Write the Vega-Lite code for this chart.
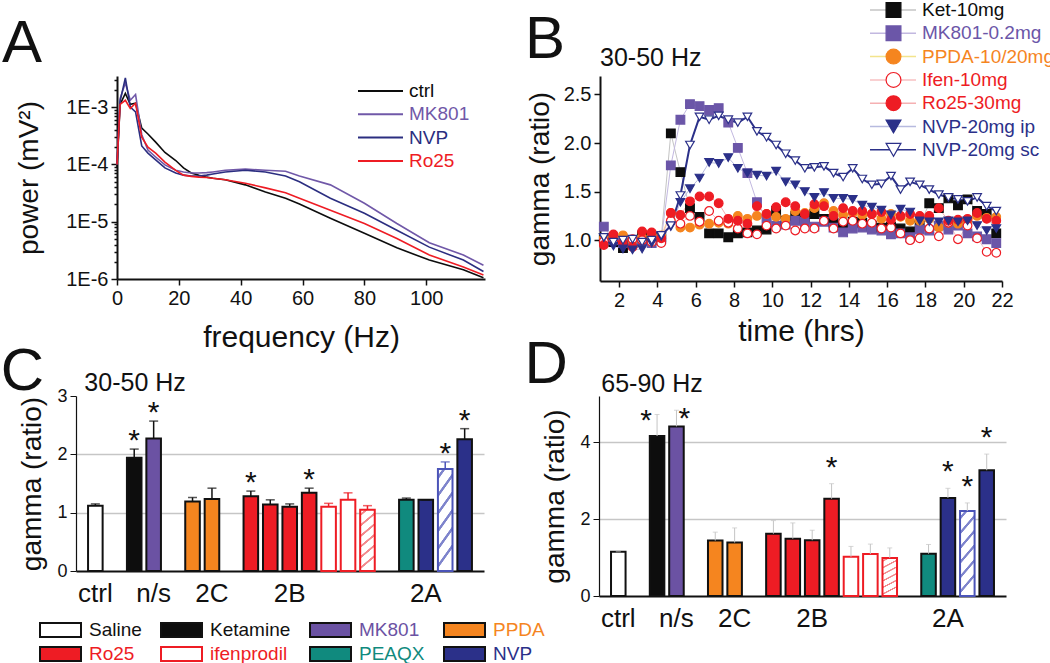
{
  "$schema": "https://vega.github.io/schema/vega-lite/v6.json",
  "background": "white",
  "padding": 0,
  "datasets": {
    "A": [
      {"f": 0, "ctrl": 8.9e-5, "MK801": 1.0e-4, "NVP": 1.0e-4, "Ro25": 1.0e-4},
      {"f": 1, "ctrl": 1.12e-3, "MK801": 1.41e-3, "NVP": 1.26e-3, "Ro25": 1.12e-3},
      {"f": 2.7, "ctrl": 1.74e-3, "MK801": 2.63e-3, "NVP": 3.24e-3, "Ro25": 1.32e-3},
      {"f": 4.3, "ctrl": 1.12e-3, "MK801": 1.32e-3, "NVP": 1.0e-3, "Ro25": 9.5e-4},
      {"f": 6, "ctrl": 1.17e-3, "MK801": 1.66e-3, "NVP": 8.3e-4, "Ro25": 1.17e-3},
      {"f": 8, "ctrl": 4.3e-4, "MK801": 3.3e-4, "NVP": 2.1e-4, "Ro25": 3.0e-4},
      {"f": 10, "ctrl": 3.4e-4, "MK801": 1.78e-4, "NVP": 1.58e-4, "Ro25": 2.0e-4},
      {"f": 12.5, "ctrl": 2.45e-4, "MK801": 1.35e-4, "NVP": 1.2e-4, "Ro25": 1.58e-4},
      {"f": 15.5, "ctrl": 1.62e-4, "MK801": 9.8e-5, "NVP": 8.7e-5, "Ro25": 1.1e-4},
      {"f": 19, "ctrl": 1.17e-4, "MK801": 7.9e-5, "NVP": 7.1e-5, "Ro25": 7.9e-5},
      {"f": 21.5, "ctrl": 8.7e-5, "MK801": 7.4e-5, "NVP": 6.5e-5, "Ro25": 6.5e-5},
      {"f": 24, "ctrl": 7.1e-5, "MK801": 7.1e-5, "NVP": 6.3e-5, "Ro25": 6.2e-5},
      {"f": 26.5, "ctrl": 6.5e-5, "MK801": 7.1e-5, "NVP": 6.3e-5, "Ro25": 6.0e-5},
      {"f": 29, "ctrl": 6.0e-5, "MK801": 7.2e-5, "NVP": 6.5e-5, "Ro25": 5.9e-5},
      {"f": 31, "ctrl": 5.75e-5, "MK801": 7.4e-5, "NVP": 6.8e-5, "Ro25": 5.75e-5},
      {"f": 35, "ctrl": 5.4e-5, "MK801": 7.9e-5, "NVP": 7.4e-5, "Ro25": 5.4e-5},
      {"f": 41.5, "ctrl": 4.4e-5, "MK801": 8.3e-5, "NVP": 7.9e-5, "Ro25": 4.7e-5},
      {"f": 48, "ctrl": 3.3e-5, "MK801": 7.9e-5, "NVP": 7.4e-5, "Ro25": 3.9e-5},
      {"f": 54.5, "ctrl": 2.57e-5, "MK801": 7.6e-5, "NVP": 6.3e-5, "Ro25": 3.2e-5},
      {"f": 59, "ctrl": 2.04e-5, "MK801": 6.3e-5, "NVP": 5.0e-5, "Ro25": 2.57e-5},
      {"f": 69, "ctrl": 1.15e-5, "MK801": 4.4e-5, "NVP": 2.57e-5, "Ro25": 1.58e-5},
      {"f": 80, "ctrl": 6.3e-6, "MK801": 2.1e-5, "NVP": 1.41e-5, "Ro25": 9.3e-6},
      {"f": 90.5, "ctrl": 3.5e-6, "MK801": 9.3e-6, "NVP": 7.1e-6, "Ro25": 5.1e-6},
      {"f": 101, "ctrl": 2.14e-6, "MK801": 4.3e-6, "NVP": 3.6e-6, "Ro25": 2.63e-6},
      {"f": 112, "ctrl": 1.45e-6, "MK801": 2.63e-6, "NVP": 2.14e-6, "Ro25": 1.62e-6},
      {"f": 118.5, "ctrl": 1.05e-6, "MK801": 1.74e-6, "NVP": 1.35e-6, "Ro25": 1.17e-6}
    ],
    "B": [
      {"t": 1.2, "ket": 1.02, "mk": 1.14, "ppda": 1.02, "ifen": 0.99, "ro": 0.95, "ip": 1.03, "sc": 1.03},
      {"t": 1.7, "ket": 0.98, "mk": 1.0, "ppda": 1.03, "ifen": 1.0, "ro": 1.06, "ip": 0.94, "sc": 0.98},
      {"t": 2.2, "ket": 0.92, "mk": 0.97, "ppda": 1.05, "ifen": 0.97, "ro": 0.97, "ip": 0.91, "sc": 1.0},
      {"t": 2.7, "ket": 0.97, "mk": 0.98, "ppda": 1.0, "ifen": 1.01, "ro": 0.93, "ip": 0.9, "sc": 1.01},
      {"t": 3.2, "ket": 1.05, "mk": 1.0, "ppda": 1.03, "ifen": 1.0, "ro": 1.09, "ip": 0.91, "sc": 0.98},
      {"t": 3.7, "ket": 1.0, "mk": 0.97, "ppda": 1.05, "ifen": 0.98, "ro": 1.08, "ip": 0.97, "sc": 1.0},
      {"t": 4.2, "ket": 1.03, "mk": 1.01, "ppda": 1.05, "ifen": 0.97, "ro": 1.02, "ip": 1.04, "sc": 1.05},
      {"t": 4.7, "ket": 2.1, "mk": 1.77, "ppda": 1.28, "ifen": 1.2, "ro": 1.28, "ip": 1.14, "sc": 1.15},
      {"t": 5.2, "ket": 1.7, "mk": 2.24, "ppda": 1.13, "ifen": 1.17, "ro": 1.26, "ip": 1.39, "sc": 1.46},
      {"t": 5.7, "ket": 1.33, "mk": 2.4, "ppda": 1.13, "ifen": 1.25, "ro": 1.4, "ip": 1.53, "sc": 1.98},
      {"t": 6.2, "ket": 1.24, "mk": 2.38, "ppda": 1.16, "ifen": 1.19, "ro": 1.45, "ip": 1.64, "sc": 2.27},
      {"t": 6.7, "ket": 1.07, "mk": 2.34, "ppda": 1.17, "ifen": 1.3, "ro": 1.45, "ip": 1.8, "sc": 2.24},
      {"t": 7.2, "ket": 1.07, "mk": 2.36, "ppda": 1.18, "ifen": 1.2, "ro": 1.38, "ip": 1.79, "sc": 2.28},
      {"t": 7.7, "ket": 1.03, "mk": 2.21, "ppda": 1.17, "ifen": 1.18, "ro": 1.22, "ip": 1.85, "sc": 2.24},
      {"t": 8.2, "ket": 1.07, "mk": 1.95, "ppda": 1.25, "ifen": 1.12, "ro": 1.2, "ip": 1.74, "sc": 2.21},
      {"t": 8.7, "ket": 1.08, "mk": 1.69, "ppda": 1.22, "ifen": 1.07, "ro": 1.17, "ip": 1.69, "sc": 2.27},
      {"t": 9.2, "ket": 1.1, "mk": 1.39, "ppda": 1.25, "ifen": 1.06, "ro": 1.35, "ip": 1.67, "sc": 2.12},
      {"t": 9.7, "ket": 1.11, "mk": 1.22, "ppda": 1.27, "ifen": 1.15, "ro": 1.27, "ip": 1.66, "sc": 2.06},
      {"t": 10.2, "ket": 1.3, "mk": 1.15, "ppda": 1.24, "ifen": 1.12, "ro": 1.34, "ip": 1.71, "sc": 1.98},
      {"t": 10.7, "ket": 1.2, "mk": 1.16, "ppda": 1.22, "ifen": 1.15, "ro": 1.39, "ip": 1.6, "sc": 1.89},
      {"t": 11.2, "ket": 1.25, "mk": 1.2, "ppda": 1.3, "ifen": 1.1, "ro": 1.35, "ip": 1.57, "sc": 1.82},
      {"t": 11.7, "ket": 1.22, "mk": 1.19, "ppda": 1.28, "ifen": 1.12, "ro": 1.27, "ip": 1.5, "sc": 1.74},
      {"t": 12.2, "ket": 1.27, "mk": 1.14, "ppda": 1.33, "ifen": 1.12, "ro": 1.37, "ip": 1.44, "sc": 1.75},
      {"t": 12.7, "ket": 1.22, "mk": 1.19, "ppda": 1.38, "ifen": 1.2, "ro": 1.35, "ip": 1.49, "sc": 1.76},
      {"t": 13.2, "ket": 1.18, "mk": 1.13, "ppda": 1.3, "ifen": 1.12, "ro": 1.25, "ip": 1.43, "sc": 1.69},
      {"t": 13.7, "ket": 1.15, "mk": 1.08, "ppda": 1.26, "ifen": 1.19, "ro": 1.33, "ip": 1.43, "sc": 1.65},
      {"t": 14.2, "ket": 1.19, "mk": 1.12, "ppda": 1.28, "ifen": 1.2, "ro": 1.3, "ip": 1.42, "sc": 1.74},
      {"t": 14.7, "ket": 1.18, "mk": 1.13, "ppda": 1.26, "ifen": 1.17, "ro": 1.3, "ip": 1.36, "sc": 1.63},
      {"t": 15.2, "ket": 1.15, "mk": 1.11, "ppda": 1.27, "ifen": 1.18, "ro": 1.27, "ip": 1.34, "sc": 1.57},
      {"t": 15.7, "ket": 1.13, "mk": 1.1, "ppda": 1.22, "ifen": 1.12, "ro": 1.29, "ip": 1.31, "sc": 1.58},
      {"t": 16.2, "ket": 1.14, "mk": 1.06, "ppda": 1.27, "ifen": 1.13, "ro": 1.21, "ip": 1.26, "sc": 1.66},
      {"t": 16.7, "ket": 1.12, "mk": 1.07, "ppda": 1.24, "ifen": 1.07, "ro": 1.25, "ip": 1.32, "sc": 1.52},
      {"t": 17.2, "ket": 1.09, "mk": 1.03, "ppda": 1.2, "ifen": 1.0, "ro": 1.27, "ip": 1.29, "sc": 1.6},
      {"t": 17.7, "ket": 1.15, "mk": 1.11, "ppda": 1.2, "ifen": 1.02, "ro": 1.25, "ip": 1.2, "sc": 1.57},
      {"t": 18.2, "ket": 1.38, "mk": 1.1, "ppda": 1.22, "ifen": 1.12, "ro": 1.25, "ip": 1.19, "sc": 1.52},
      {"t": 18.7, "ket": 1.33, "mk": 1.15, "ppda": 1.13, "ifen": 1.04, "ro": 1.33, "ip": 1.19, "sc": 1.47},
      {"t": 19.2, "ket": 1.43, "mk": 1.11, "ppda": 1.18, "ifen": 1.18, "ro": 1.2, "ip": 1.2, "sc": 1.44},
      {"t": 19.7, "ket": 1.36, "mk": 1.15, "ppda": 1.17, "ifen": 1.01, "ro": 1.21, "ip": 1.19, "sc": 1.42},
      {"t": 20.2, "ket": 1.42, "mk": 1.07, "ppda": 1.2, "ifen": 1.15, "ro": 1.22, "ip": 1.2, "sc": 1.4},
      {"t": 20.7, "ket": 1.3, "mk": 1.04, "ppda": 1.25, "ifen": 1.02, "ro": 1.28, "ip": 1.15, "sc": 1.44},
      {"t": 21.2, "ket": 1.27, "mk": 1.01, "ppda": 1.23, "ifen": 0.88, "ro": 1.22, "ip": 1.1, "sc": 1.35},
      {"t": 21.7, "ket": 1.07, "mk": 0.97, "ppda": 1.24, "ifen": 0.87, "ro": 1.2, "ip": 1.12, "sc": 1.3}
    ],
    "C": [
      {"id": "ctrl", "drug": "Saline", "v": 1.12, "e": 1.15},
      {"id": "ket", "drug": "Ketamine", "v": 1.94, "e": 2.09, "st": true},
      {"id": "mk", "drug": "MK801", "v": 2.27, "e": 2.57, "st": true},
      {"id": "ppda1", "drug": "PPDA", "v": 1.19, "e": 1.26},
      {"id": "ppda2", "drug": "PPDA", "v": 1.235, "e": 1.42},
      {"id": "ro1", "drug": "Ro25", "v": 1.28, "e": 1.37, "st": true},
      {"id": "ro2", "drug": "Ro25", "v": 1.14, "e": 1.22},
      {"id": "ro3", "drug": "Ro25", "v": 1.1, "e": 1.15},
      {"id": "ro4", "drug": "Ro25", "v": 1.34, "e": 1.42, "st": true},
      {"id": "if1", "drug": "ifenprodil", "v": 1.1, "e": 1.16},
      {"id": "if2", "drug": "ifenprodil", "v": 1.22, "e": 1.34},
      {"id": "if3", "drug": "ifenprodil", "v": 1.05, "e": 1.12, "h": true},
      {"id": "peaqx", "drug": "PEAQX", "v": 1.22, "e": 1.25},
      {"id": "nvp1", "drug": "NVP", "v": 1.22, "e": 1.22},
      {"id": "nvph", "drug": "NVP", "v": 1.75, "e": 1.87, "h": true, "st": true},
      {"id": "nvp2", "drug": "NVP", "v": 2.26, "e": 2.44, "st": true}
    ],
    "D": [
      {"id": "ctrl", "drug": "Saline", "v": 1.15, "e": 1.15},
      {"id": "ket", "drug": "Ketamine", "v": 4.16, "e": 4.72, "st": true},
      {"id": "mk", "drug": "MK801", "v": 4.41, "e": 4.83, "st": true},
      {"id": "ppda1", "drug": "PPDA", "v": 1.44, "e": 1.66},
      {"id": "ppda2", "drug": "PPDA", "v": 1.39, "e": 1.77},
      {"id": "ro1", "drug": "Ro25", "v": 1.62, "e": 1.96},
      {"id": "ro2", "drug": "Ro25", "v": 1.49, "e": 1.9},
      {"id": "ro3", "drug": "Ro25", "v": 1.45, "e": 1.71},
      {"id": "ro4", "drug": "Ro25", "v": 2.53, "e": 2.92, "st": true},
      {"id": "if1", "drug": "ifenprodil", "v": 1.02, "e": 1.29},
      {"id": "if2", "drug": "ifenprodil", "v": 1.09, "e": 1.35},
      {"id": "if3", "drug": "ifenprodil", "v": 0.99, "e": 1.25, "h": true},
      {"id": "peaqx", "drug": "PEAQX", "v": 1.1, "e": 1.34},
      {"id": "nvp1", "drug": "NVP", "v": 2.55, "e": 2.8, "st": true},
      {"id": "nvph", "drug": "NVP", "v": 2.21, "e": 2.42, "h": true, "st": true},
      {"id": "nvp2", "drug": "NVP", "v": 3.27, "e": 3.69, "st": true}
    ]
  },
  "concat": [
    {
      "hconcat": [
        {
          "width": 409,
          "height": 203,
          "layer": [
            {
              "data": {"name": "A"},
              "transform": [{"fold": ["ctrl", "MK801", "NVP", "Ro25"], "as": ["s", "p"]}],
              "mark": {"type": "line", "strokeWidth": 1.6},
              "encoding": {
                "x": {"field": "f", "type": "quantitative",
                  "scale": {"domain": [0, 119], "range": [41, 409], "nice": false, "zero": false},
                  "axis": {"title": "frequency (Hz)", "values": [0, 10, 20, 30, 40, 50, 60, 70, 80, 90, 100, 110],
                    "labelExpr": "datum.value % 20 == 0 ? datum.label : ''",
                    "tickSize": {"condition": {"test": "datum.value % 20 != 0", "value": 3}, "value": 6},
                    "domainWidth": 2, "tickWidth": 1.5, "labelFontSize": 20, "titleFontSize": 30,
                    "labelPadding": 3, "titlePadding": 14, "labelFlush": false, "labelOverlap": false}},
                "y": {"field": "p", "type": "quantitative",
                  "scale": {"type": "log", "domain": [1e-6, 0.0035], "nice": false},
                  "axis": {"title": "power (mV²)", "offset": -41,
                    "values": [1e-6, 2e-6, 3e-6, 4e-6, 5e-6, 6e-6, 7e-6, 8e-6, 9e-6, 1e-5, 2e-5, 3e-5, 4e-5, 5e-5, 6e-5, 7e-5, 8e-5, 9e-5, 1e-4, 2e-4, 3e-4, 4e-4, 5e-4, 6e-4, 7e-4, 8e-4, 9e-4, 1e-3, 2e-3, 3e-3],
                    "labelExpr": "abs(log(datum.value)/LN10 - round(log(datum.value)/LN10)) < 0.001 ? '1E' + round(log(datum.value)/LN10) : ''",
                    "tickSize": {"condition": {"test": "abs(log(datum.value)/LN10 - round(log(datum.value)/LN10)) >= 0.001", "value": 3}, "value": 6},
                    "domainWidth": 2, "tickWidth": 1.5, "labelFontSize": 20, "titleFontSize": 28,
                    "labelPadding": 3, "titlePadding": 22, "labelOverlap": false}},
                "stroke": {"field": "s", "type": "nominal",
                  "scale": {"domain": ["ctrl", "MK801", "NVP", "Ro25"], "range": ["#0d0d0d", "#7058a8", "#2b2e80", "#ee1c24"]},
                  "legend": {"title": null, "orient": "none", "legendX": 281, "legendY": 5,
                    "symbolType": "stroke", "symbolSize": 2025, "symbolStrokeWidth": 2, "clipHeight": 20, "rowPadding": 3.3,
                    "labelFontSize": 19, "labelOffset": 5, "labelLimit": 200,
                    "labelColor": {"expr": "datum.value=='MK801' ? '#7058a8' : datum.value=='NVP' ? '#2b2e80' : datum.value=='Ro25' ? '#ee1c24' : '#0d0d0d'"}}}
              }
            },
            {
              "data": {"values": [{}]},
              "mark": {"type": "text", "text": "A", "fontSize": 60, "align": "center", "baseline": "alphabetic", "dx": -95, "dy": -14},
              "encoding": {"x": {"datum": 0}, "y": {"datum": 0.0035}}
            }
          ]
        },
        {
          "width": 402,
          "height": 205,
          "layer": [
            {
              "data": {"name": "B"},
              "transform": [
                {"fold": ["ket", "mk", "ppda", "ifen", "ro", "ip", "sc"], "as": ["s", "v"]}
              ],
              "mark": {"type": "line"},
              "encoding": {
                "x": {"field": "t", "type": "quantitative",
                  "scale": {"domain": [1, 22], "nice": false, "zero": false},
                  "axis": {"title": "time (hrs)", "values": [2, 4, 6, 8, 10, 12, 14, 16, 18, 20, 22],
                    "domainWidth": 2, "tickWidth": 1.5, "tickSize": 6, "labelFontSize": 20, "titleFontSize": 30,
                    "labelPadding": 3, "titlePadding": 6, "labelFlush": false, "labelOverlap": false}},
                "y": {"field": "v", "type": "quantitative",
                  "scale": {"domain": [0.58, 2.69], "nice": false, "zero": false},
                  "axis": {"title": "gamma (ratio)", "values": [1, 1.5, 2, 2.5], "format": ".1f",
                    "domainWidth": 2, "tickWidth": 1.5, "tickSize": 6, "labelFontSize": 20, "titleFontSize": 28,
                    "labelPadding": 3, "titlePadding": 9, "labelOverlap": false}},
                "color": {"field": "s", "type": "nominal", "sort": null,
                  "scale": {"range": ["#c4c4c4", "#c2b8e0", "#f3e48c", "#f7c0c2", "#f5b0b2", "#b7badf", "#2b3089"]},
                  "legend": {"title": null, "orient": "none", "legendX": 269, "legendY": -76, "symbolType": "stroke", "symbolSize": 2116, "symbolStrokeWidth": 1.5,
                    "clipHeight": 20, "rowPadding": 3.3, "labelExpr": "''", "labelFontSize": 19, "labelOffset": 0}},
                "strokeWidth": {"condition": {"test": "datum.s == 'sc'", "value": 2}, "value": 1}
              }
            },
            {
              "data": {"name": "B"},
              "transform": [
                {"fold": ["ket", "mk", "ppda", "ifen", "ro", "ip", "sc"], "as": ["s", "v"]}
              ],
              "mark": {"type": "point", "filled": true, "size": 75, "strokeWidth": 1.2, "opacity": 1},
              "encoding": {
                "x": {"field": "t", "type": "quantitative"},
                "y": {"field": "v", "type": "quantitative"},
                "shape": {"field": "s", "type": "nominal",
                  "scale": {"domain": ["ket", "mk", "ppda", "ifen", "ro", "ip", "sc"],
                    "range": ["square", "square", "circle", "circle", "circle", "triangle-down", "triangle-down"]},
                  "legend": {"title": null, "orient": "none", "legendX": 284, "legendY": -76, "symbolSize": 220, "symbolStrokeWidth": 1.2, "rowPadding": 3.3, "clipHeight": 20,
                    "labelFontSize": 19, "labelOffset": 19, "labelLimit": 300,
                    "labelExpr": "{'ket': 'Ket-10mg', 'mk': 'MK801-0.2mg', 'ppda': 'PPDA-10/20mg', 'ifen': 'Ifen-10mg', 'ro': 'Ro25-30mg', 'ip': 'NVP-20mg ip', 'sc': 'NVP-20mg sc'}[datum.value]",
                    "labelColor": {"expr": "datum.value=='ket' ? '#0d0d0d' : datum.value=='mk' ? '#6b56a8' : datum.value=='ppda' ? '#f5851f' : (datum.value=='ifen' || datum.value=='ro') ? '#ee1c24' : '#2b3089'"}}},
                "fill": {"field": "s", "type": "nominal",
                  "scale": {"domain": ["ket", "mk", "ppda", "ifen", "ro", "ip", "sc"],
                    "range": ["#0d0d0d", "#6b56a8", "#f5851f", "#ffffff", "#ee1c24", "#2b3089", "#ffffff"]}},
                "stroke": {"field": "s", "type": "nominal",
                  "scale": {"domain": ["ket", "mk", "ppda", "ifen", "ro", "ip", "sc"],
                    "range": ["#0d0d0d", "#6b56a8", "#f5851f", "#ee1c24", "#ee1c24", "#2b3089", "#2b3089"]}}
              }
            },
            {
              "data": {"values": [{}]},
              "mark": {"type": "text", "text": "B", "fontSize": 60, "align": "center", "baseline": "alphabetic", "dx": -55, "dy": -18},
              "encoding": {"x": {"datum": 1}, "y": {"datum": 2.69}}
            },
            {
              "data": {"values": [{}]},
              "mark": {"type": "text", "text": "30-50 Hz", "fontSize": 25, "align": "left", "baseline": "alphabetic", "dx": 0, "dy": -10},
              "encoding": {"x": {"datum": 1}, "y": {"datum": 2.69}}
            }
          ]
        }
      ],
      "spacing": 115,
      "bounds": "flush",
      "resolve": {"scale": {"fill": "independent", "stroke": "independent", "color": "independent", "shape": "independent"}, "legend": {"fill": "independent", "stroke": "independent", "color": "independent", "shape": "independent"}}
    },
    {
      "hconcat": [
        {
          "width": 408,
          "height": 175,
          "layer": [
            {
              "data": {"name": "C"},
              "mark": {"type": "bar", "strokeWidth": 2},
              "encoding": {
                "x": {"field": "id", "type": "nominal",
                  "scale": {"domain": ["ctrl", "s1", "ket", "mk", "s4", "ppda1", "ppda2", "s7", "ro1", "ro2", "ro3", "ro4", "if1", "if2", "if3", "s15", "peaqx", "nvp1", "nvph", "nvp2"], "paddingInner": 0.25, "paddingOuter": 0.62},
                  "axis": {"title": null, "ticks": false, "domainColor": "#111111", "domainWidth": 2, "labelFontSize": 26, "labelPadding": 9, "labelAngle": 0, "labelOverlap": false,
                    "labelExpr": "datum.value=='ctrl' ? 'ctrl' : datum.value=='mk' ? 'n/s' : datum.value=='ppda2' ? '2C' : datum.value=='ro3' ? '2B' : datum.value=='nvp1' ? '2A' : ''"}},
                "y": {"field": "v", "type": "quantitative",
                  "scale": {"domain": [0, 3], "nice": false},
                  "axis": {"title": "gamma (ratio)", "values": [0, 0.5, 1, 1.5, 2, 2.5, 3],
                    "format": ".1f",
                    "labelExpr": "datum.value % 1 == 0 ? format(datum.value, 'd') : ''",
                    "tickSize": {"condition": {"test": "datum.value % 1 != 0", "value": 3}, "value": 6},
                    "grid": true, "gridWidth": 1.5,
                    "gridColor": {"condition": {"test": "datum.value == 1 || datum.value == 2", "value": "#c6c6c6"}, "value": "rgba(0,0,0,0)"},
                    "domainWidth": 1.2, "labelFontSize": 18, "titleFontSize": 28, "labelPadding": 3, "titlePadding": 10, "labelOverlap": false}},
                "fill": {
                  "condition": [
                    {"test": "datum.h && datum.drug == 'ifenprodil'", "value": {"gradient": "linear", "x1": 0, "y1": 0, "x2": 0.2, "y2": 1, "stops": [
                      {"offset": 0, "color": "#ffffff"}, {"offset": 0.058, "color": "#ffffff"}, {"offset": 0.068, "color": "#f28a8d"}, {"offset": 0.098, "color": "#f28a8d"}, {"offset": 0.108, "color": "#ffffff"},
                      {"offset": 0.225, "color": "#ffffff"}, {"offset": 0.235, "color": "#f28a8d"}, {"offset": 0.265, "color": "#f28a8d"}, {"offset": 0.275, "color": "#ffffff"},
                      {"offset": 0.392, "color": "#ffffff"}, {"offset": 0.402, "color": "#f28a8d"}, {"offset": 0.432, "color": "#f28a8d"}, {"offset": 0.442, "color": "#ffffff"},
                      {"offset": 0.558, "color": "#ffffff"}, {"offset": 0.568, "color": "#f28a8d"}, {"offset": 0.598, "color": "#f28a8d"}, {"offset": 0.608, "color": "#ffffff"},
                      {"offset": 0.725, "color": "#ffffff"}, {"offset": 0.735, "color": "#f28a8d"}, {"offset": 0.765, "color": "#f28a8d"}, {"offset": 0.775, "color": "#ffffff"},
                      {"offset": 0.892, "color": "#ffffff"}, {"offset": 0.902, "color": "#f28a8d"}, {"offset": 0.932, "color": "#f28a8d"}, {"offset": 0.942, "color": "#ffffff"},
                      {"offset": 1, "color": "#ffffff"}]}},
                    {"test": "datum.h && datum.drug == 'NVP'", "value": {"gradient": "linear", "x1": 0, "y1": 0, "x2": 0.2, "y2": 1, "stops": [
                      {"offset": 0, "color": "#ffffff"}, {"offset": 0.058, "color": "#ffffff"}, {"offset": 0.068, "color": "#7e84cc"}, {"offset": 0.098, "color": "#7e84cc"}, {"offset": 0.108, "color": "#ffffff"},
                      {"offset": 0.225, "color": "#ffffff"}, {"offset": 0.235, "color": "#7e84cc"}, {"offset": 0.265, "color": "#7e84cc"}, {"offset": 0.275, "color": "#ffffff"},
                      {"offset": 0.392, "color": "#ffffff"}, {"offset": 0.402, "color": "#7e84cc"}, {"offset": 0.432, "color": "#7e84cc"}, {"offset": 0.442, "color": "#ffffff"},
                      {"offset": 0.558, "color": "#ffffff"}, {"offset": 0.568, "color": "#7e84cc"}, {"offset": 0.598, "color": "#7e84cc"}, {"offset": 0.608, "color": "#ffffff"},
                      {"offset": 0.725, "color": "#ffffff"}, {"offset": 0.735, "color": "#7e84cc"}, {"offset": 0.765, "color": "#7e84cc"}, {"offset": 0.775, "color": "#ffffff"},
                      {"offset": 0.892, "color": "#ffffff"}, {"offset": 0.902, "color": "#7e84cc"}, {"offset": 0.932, "color": "#7e84cc"}, {"offset": 0.942, "color": "#ffffff"},
                      {"offset": 1, "color": "#ffffff"}]}}
                  ],
                  "field": "drug", "type": "nominal",
                  "scale": {"domain": ["Saline", "Ketamine", "MK801", "PPDA", "Ro25", "ifenprodil", "PEAQX", "NVP"],
                    "range": ["#ffffff", "#0d0d0d", "#6b52a3", "#f5851f", "#ee1c24", "#ffffff", "#108a7e", "#2b3089"]},
                  "legend": {"title": null, "orient": "none", "legendX": -37, "legendY": 224, "direction": "horizontal", "columns": 4, "columnPadding": 18, "gridAlign": "each",
                    "rowPadding": 4, "clipHeight": 20, "symbolType": "M-1,-0.34H1V0.34H-1Z", "symbolSize": 1681, "symbolStrokeWidth": 2, "symbolOpacity": 1,
                    "labelFontSize": 19, "labelOffset": 7, "labelLimit": 200,
                    "labelColor": {"expr": "datum.value=='MK801' ? '#6b52a3' : datum.value=='PPDA' ? '#f5851f' : (datum.value=='Ro25' || datum.value=='ifenprodil') ? '#ee1c24' : datum.value=='PEAQX' ? '#108a7e' : datum.value=='NVP' ? '#2b3089' : '#111111'"}}
                },
                "stroke": {
                  "condition": {"test": "datum.h && datum.drug == 'NVP'", "value": "#4b54b8"},
                  "field": "drug", "type": "nominal",
                  "scale": {"domain": ["Saline", "Ketamine", "MK801", "PPDA", "Ro25", "ifenprodil", "PEAQX", "NVP"],
                    "range": ["#111111", "#111111", "#111111", "#111111", "#111111", "#ee1c24", "#111111", "#111111"]}
                }
              }
            },
            {
              "data": {"name": "C"},
              "mark": {"type": "rule", "strokeWidth": 1.5},
              "encoding": {
                "x": {"field": "id", "type": "nominal"},
                "y": {"field": "v", "type": "quantitative"},
                "y2": {"field": "e"},
                "color": {"condition": {"test": "datum.h && datum.drug == 'NVP'", "value": "#4b54b8"},
                  "field": "drug", "type": "nominal",
                  "scale": {"domain": ["Saline", "Ketamine", "MK801", "PPDA", "Ro25", "ifenprodil", "PEAQX", "NVP"],
                    "range": ["#111111", "#111111", "#111111", "#111111", "#111111", "#ee1c24", "#111111", "#111111"]},
                  "legend": null}
              }
            },
            {
              "data": {"name": "C"},
              "mark": {"type": "tick", "size": 9, "thickness": 1.5},
              "encoding": {
                "x": {"field": "id", "type": "nominal"},
                "y": {"field": "e", "type": "quantitative"},
                "color": {"condition": {"test": "datum.h && datum.drug == 'NVP'", "value": "#4b54b8"},
                  "field": "drug", "type": "nominal", "legend": null}
              }
            },
            {
              "data": {"name": "C"},
              "transform": [{"filter": "datum.st"}],
              "mark": {"type": "text", "text": "*", "fontSize": 30, "baseline": "middle", "align": "center", "dy": -8},
              "encoding": {
                "x": {"field": "id", "type": "nominal"},
                "y": {"field": "e", "type": "quantitative"}
              }
            },
            {
              "data": {"values": [{}]},
              "mark": {"type": "text", "text": "30-50 Hz", "fontSize": 25, "align": "left", "baseline": "alphabetic", "dx": -11, "dy": -5},
              "encoding": {"x": {"datum": "ctrl"}, "y": {"datum": 3}}
            },
            {
              "data": {"values": [{}]},
              "mark": {"type": "text", "text": "C", "fontSize": 60, "align": "center", "baseline": "alphabetic", "dx": -73, "dy": -6},
              "encoding": {"x": {"datum": "ctrl"}, "y": {"datum": 3}}
            }
          ]
        },
        {
          "width": 407,
          "height": 200,
          "layer": [
            {
              "data": {"name": "D"},
              "mark": {"type": "bar", "strokeWidth": 2},
              "encoding": {
                "x": {"field": "id", "type": "nominal",
                  "scale": {"domain": ["ctrl", "s1", "ket", "mk", "s4", "ppda1", "ppda2", "s7", "ro1", "ro2", "ro3", "ro4", "if1", "if2", "if3", "s15", "peaqx", "nvp1", "nvph", "nvp2"], "paddingInner": 0.25, "paddingOuter": 0.62},
                  "axis": {"title": null, "ticks": false, "domainColor": "#111111", "domainWidth": 2, "labelFontSize": 26, "labelPadding": 9, "labelAngle": 0, "labelOverlap": false,
                    "labelExpr": "datum.value=='ctrl' ? 'ctrl' : datum.value=='mk' ? 'n/s' : datum.value=='ppda2' ? '2C' : datum.value=='ro3' ? '2B' : datum.value=='nvp1' ? '2A' : ''"}},
                "y": {"field": "v", "type": "quantitative",
                  "scale": {"domain": [0, 5.2], "nice": false},
                  "axis": {"title": "gamma (ratio)", "values": [0, 0.5, 1, 1.5, 2, 2.5, 3, 3.5, 4, 4.5, 5],
                    "format": ".1f",
                    "labelExpr": "datum.value % 1 == 0 ? format(datum.value, 'd') : ''",
                    "tickSize": {"condition": {"test": "datum.value % 1 != 0", "value": 3}, "value": 6},
                    "grid": true, "gridWidth": 1.5,
                    "gridColor": {"condition": {"test": "datum.value > 0 && datum.value % 1 == 0", "value": "#c6c6c6"}, "value": "rgba(0,0,0,0)"},
                    "domainWidth": 1.2, "labelFontSize": 18, "titleFontSize": 28, "labelPadding": 3, "titlePadding": 10, "labelOverlap": false}},
                "fill": {
                  "condition": [
                    {"test": "datum.h && datum.drug == 'ifenprodil'", "value": {"gradient": "linear", "x1": 0, "y1": 0, "x2": 0.2, "y2": 1, "stops": [
                      {"offset": 0, "color": "#ffffff"}, {"offset": 0.058, "color": "#ffffff"}, {"offset": 0.068, "color": "#f28a8d"}, {"offset": 0.098, "color": "#f28a8d"}, {"offset": 0.108, "color": "#ffffff"},
                      {"offset": 0.225, "color": "#ffffff"}, {"offset": 0.235, "color": "#f28a8d"}, {"offset": 0.265, "color": "#f28a8d"}, {"offset": 0.275, "color": "#ffffff"},
                      {"offset": 0.392, "color": "#ffffff"}, {"offset": 0.402, "color": "#f28a8d"}, {"offset": 0.432, "color": "#f28a8d"}, {"offset": 0.442, "color": "#ffffff"},
                      {"offset": 0.558, "color": "#ffffff"}, {"offset": 0.568, "color": "#f28a8d"}, {"offset": 0.598, "color": "#f28a8d"}, {"offset": 0.608, "color": "#ffffff"},
                      {"offset": 0.725, "color": "#ffffff"}, {"offset": 0.735, "color": "#f28a8d"}, {"offset": 0.765, "color": "#f28a8d"}, {"offset": 0.775, "color": "#ffffff"},
                      {"offset": 0.892, "color": "#ffffff"}, {"offset": 0.902, "color": "#f28a8d"}, {"offset": 0.932, "color": "#f28a8d"}, {"offset": 0.942, "color": "#ffffff"},
                      {"offset": 1, "color": "#ffffff"}]}},
                    {"test": "datum.h && datum.drug == 'NVP'", "value": {"gradient": "linear", "x1": 0, "y1": 0, "x2": 0.2, "y2": 1, "stops": [
                      {"offset": 0, "color": "#ffffff"}, {"offset": 0.058, "color": "#ffffff"}, {"offset": 0.068, "color": "#7e84cc"}, {"offset": 0.098, "color": "#7e84cc"}, {"offset": 0.108, "color": "#ffffff"},
                      {"offset": 0.225, "color": "#ffffff"}, {"offset": 0.235, "color": "#7e84cc"}, {"offset": 0.265, "color": "#7e84cc"}, {"offset": 0.275, "color": "#ffffff"},
                      {"offset": 0.392, "color": "#ffffff"}, {"offset": 0.402, "color": "#7e84cc"}, {"offset": 0.432, "color": "#7e84cc"}, {"offset": 0.442, "color": "#ffffff"},
                      {"offset": 0.558, "color": "#ffffff"}, {"offset": 0.568, "color": "#7e84cc"}, {"offset": 0.598, "color": "#7e84cc"}, {"offset": 0.608, "color": "#ffffff"},
                      {"offset": 0.725, "color": "#ffffff"}, {"offset": 0.735, "color": "#7e84cc"}, {"offset": 0.765, "color": "#7e84cc"}, {"offset": 0.775, "color": "#ffffff"},
                      {"offset": 0.892, "color": "#ffffff"}, {"offset": 0.902, "color": "#7e84cc"}, {"offset": 0.932, "color": "#7e84cc"}, {"offset": 0.942, "color": "#ffffff"},
                      {"offset": 1, "color": "#ffffff"}]}}
                  ],
                  "field": "drug", "type": "nominal",
                  "scale": {"domain": ["Saline", "Ketamine", "MK801", "PPDA", "Ro25", "ifenprodil", "PEAQX", "NVP"],
                    "range": ["#ffffff", "#0d0d0d", "#6b52a3", "#f5851f", "#ee1c24", "#ffffff", "#108a7e", "#2b3089"]},
                  "legend": null
                },
                "stroke": {
                  "condition": {"test": "datum.h && datum.drug == 'NVP'", "value": "#4b54b8"},
                  "field": "drug", "type": "nominal",
                  "scale": {"domain": ["Saline", "Ketamine", "MK801", "PPDA", "Ro25", "ifenprodil", "PEAQX", "NVP"],
                    "range": ["#111111", "#111111", "#111111", "#111111", "#111111", "#ee1c24", "#111111", "#111111"]},
                  "legend": null
                }
              }
            },
            {
              "data": {"name": "D"},
              "mark": {"type": "rule", "strokeWidth": 1, "color": "#c4c4c4"},
              "encoding": {
                "x": {"field": "id", "type": "nominal"},
                "y": {"field": "v", "type": "quantitative"},
                "y2": {"field": "e"}
              }
            },
            {
              "data": {"name": "D"},
              "mark": {"type": "tick", "size": 5, "thickness": 1, "color": "#c4c4c4"},
              "encoding": {
                "x": {"field": "id", "type": "nominal"},
                "y": {"field": "e", "type": "quantitative"}
              }
            },
            {
              "data": {"name": "D"},
              "transform": [{"filter": "datum.st && datum.id != 'ket' && datum.id != 'mk'"}],
              "mark": {"type": "text", "text": "*", "fontSize": 30, "baseline": "middle", "align": "center", "dy": -16},
              "encoding": {
                "x": {"field": "id", "type": "nominal"},
                "y": {"field": "e", "type": "quantitative"}
              }
            },
            {
              "data": {"name": "D"},
              "transform": [{"filter": "datum.id == 'ket'"}],
              "mark": {"type": "text", "text": "*", "fontSize": 30, "baseline": "middle", "align": "center", "dx": -11, "dy": 7},
              "encoding": {
                "x": {"field": "id", "type": "nominal"},
                "y": {"field": "e", "type": "quantitative"}
              }
            },
            {
              "data": {"name": "D"},
              "transform": [{"filter": "datum.id == 'mk'"}],
              "mark": {"type": "text", "text": "*", "fontSize": 30, "baseline": "middle", "align": "center", "dx": 8, "dy": 9},
              "encoding": {
                "x": {"field": "id", "type": "nominal"},
                "y": {"field": "e", "type": "quantitative"}
              }
            },
            {
              "data": {"values": [{}]},
              "mark": {"type": "text", "text": "65-90 Hz", "fontSize": 25, "align": "left", "baseline": "alphabetic", "dx": -17, "dy": -4},
              "encoding": {"x": {"datum": "ctrl"}, "y": {"datum": 5.2}}
            },
            {
              "data": {"values": [{}]},
              "mark": {"type": "text", "text": "D", "fontSize": 60, "align": "center", "baseline": "alphabetic", "dx": -72, "dy": -13},
              "encoding": {"x": {"datum": "ctrl"}, "y": {"datum": 5.2}}
            }
          ]
        }
      ],
      "spacing": 115,
      "bounds": "flush",
      "resolve": {"scale": {"fill": "independent", "stroke": "independent", "color": "independent", "shape": "independent"}, "legend": {"fill": "independent", "stroke": "independent", "color": "independent", "shape": "independent"}}
    }
  ],
  "columns": 1,
  "align": "none",
  "spacing": -17,
  "resolve": {"scale": {"fill": "independent", "stroke": "independent", "color": "independent", "shape": "independent"}, "legend": {"fill": "independent", "stroke": "independent", "color": "independent", "shape": "independent"}},
  "config": {
    "font": "Liberation Sans",
    "view": {"stroke": null},
    "axis": {"grid": false, "domainColor": "#111111", "tickColor": "#111111", "labelColor": "#111111", "titleColor": "#111111", "titleFontWeight": "normal", "labelFont": "Liberation Sans", "titleFont": "Liberation Sans"},
    "legend": {"padding": 0, "labelFont": "Liberation Sans"},
    "text": {"font": "Liberation Sans", "color": "#111111"}
  }
}
